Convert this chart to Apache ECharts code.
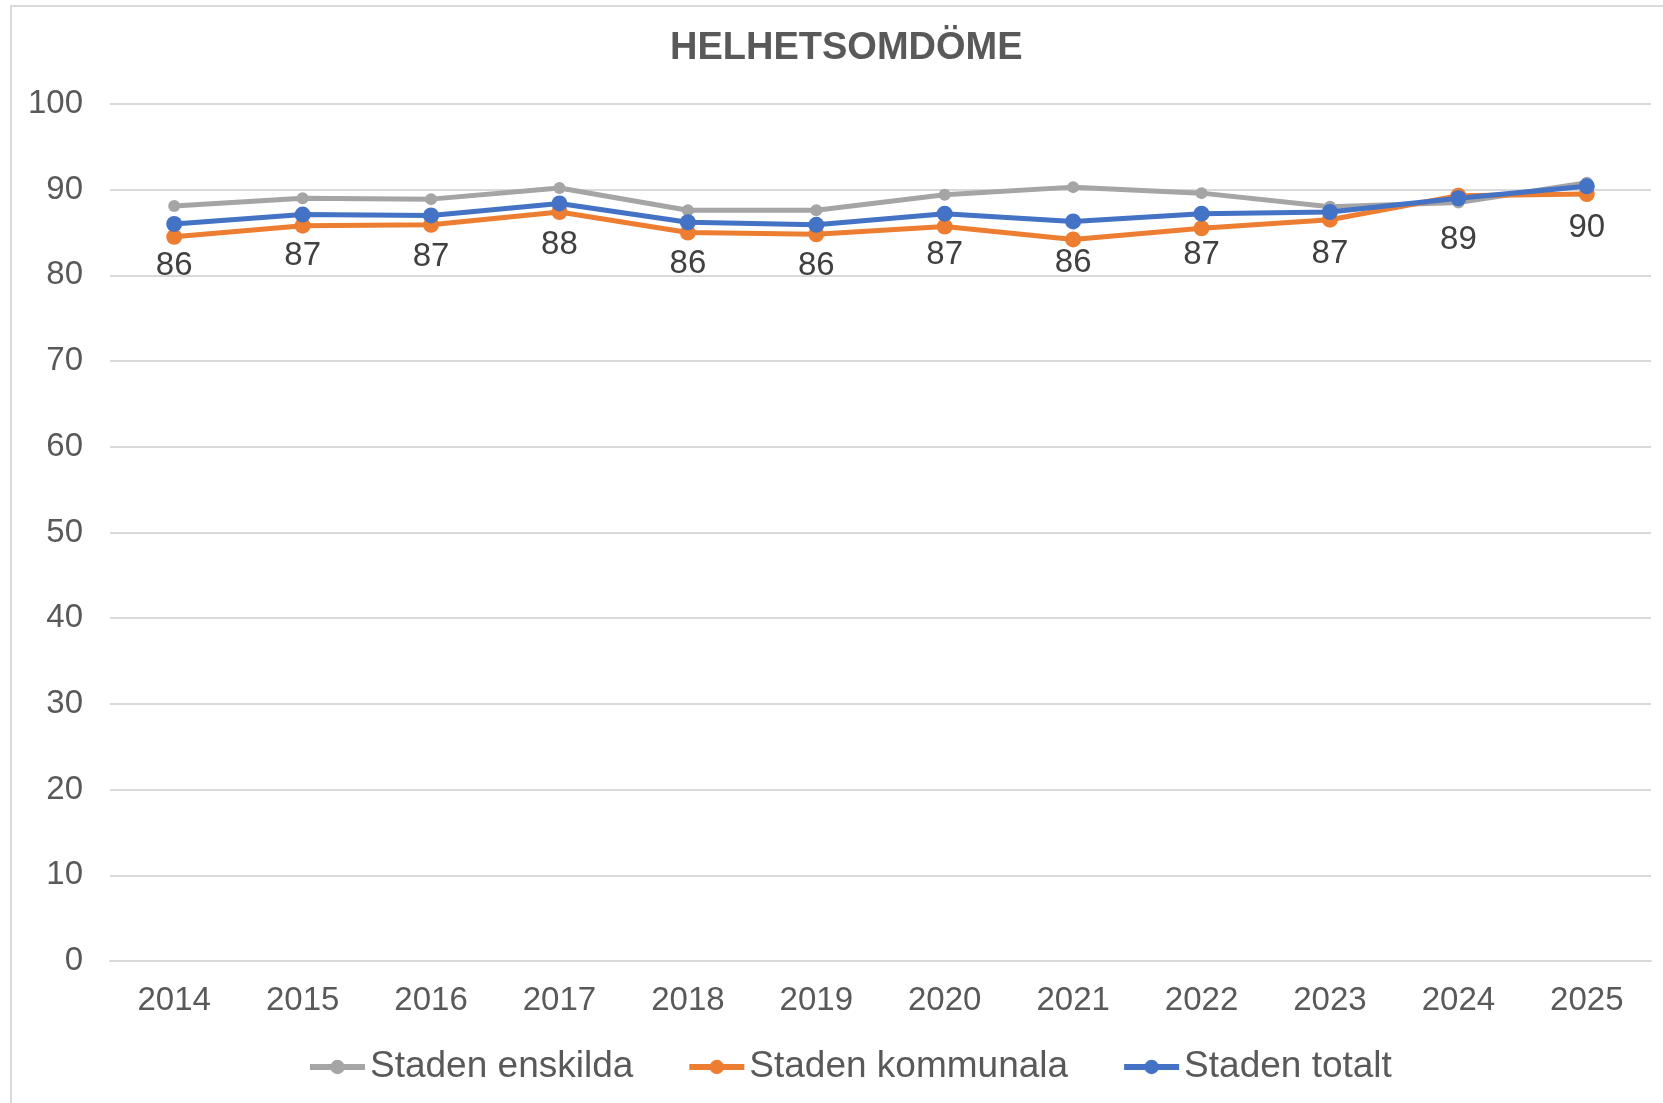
<!DOCTYPE html>
<html>
<head>
<meta charset="utf-8">
<style>
  html, body { margin: 0; padding: 0; background: #ffffff; }
  #chart { width: 1663px; height: 1103px; }
</style>
<script src="https://cdn.jsdelivr.net/npm/echarts@6/dist/echarts.min.js"></script>
</head>
<body>
<div id="chart"></div>
<script>
const titleText = 'HELHETSOMDÖME';
const categories = ['2014', '2015', '2016', '2017', '2018', '2019', '2020', '2021', '2022', '2023', '2024', '2025'];
const seriesNames = ['Staden enskilda', 'Staden kommunala', 'Staden totalt'];
const enskilda = [88.1, 89.0, 88.9, 90.2, 87.6, 87.6, 89.4, 90.3, 89.6, 88.0, 88.5, 90.8];
const kommunala = [84.5, 85.8, 85.9, 87.4, 85.0, 84.8, 85.7, 84.2, 85.5, 86.5, 89.3, 89.5];
const totalt = [86.0, 87.1, 87.0, 88.4, 86.2, 85.9, 87.2, 86.3, 87.2, 87.4, 89.0, 90.4];
const yMin = 0, yMax = 100, yInterval = 10;

const FONT = '"Liberation Sans", Arial, sans-serif';
const chart = echarts.init(document.getElementById('chart'), null, { renderer: 'canvas' });

function lineSeries(name, data, color, symbolSize, width, labels) {
  return {
    name: name,
    type: 'line',
    data: data,
    symbol: 'circle',
    symbolSize: symbolSize,
    itemStyle: { color: color },
    lineStyle: { color: color, width: width },
    animation: false,
    label: labels ? {
      show: true,
      position: 'bottom',
      distance: 17,
      color: '#404040',
      fontSize: 33,
      fontFamily: FONT,
      formatter: p => Math.round(p.value)
    } : { show: false }
  };
}

chart.setOption({
  backgroundColor: '#ffffff',
  animation: false,
  graphic: [{
    type: 'rect',
    shape: { x: 11, y: 6, width: 1700, height: 1200 },
    style: { fill: 'none', stroke: '#d9d9d9', lineWidth: 2 },
    silent: true,
    z: -10
  }],
  title: {
    text: titleText,
    left: 665,
    top: 25,
    textStyle: { color: '#595959', fontSize: 38, fontWeight: 'bold', fontFamily: FONT }
  },
  legend: {
    data: seriesNames,
    left: 302,
    top: 1042,
    itemWidth: 55,
    itemHeight: 18,
    itemGap: 53,
    lineStyle: { width: 6 },
    textStyle: { color: '#595959', fontSize: 37, fontFamily: FONT, lineHeight: 40 }
  },
  grid: { left: 110, right: 12, top: 104, bottom: 142, containLabel: false },
  xAxis: {
    type: 'category',
    data: categories,
    boundaryGap: true,
    axisTick: { show: false },
    axisLine: { lineStyle: { color: '#d9d9d9', width: 2 } },
    axisLabel: { color: '#595959', fontSize: 33, fontFamily: FONT, margin: 23 }
  },
  yAxis: {
    type: 'value',
    min: yMin,
    max: yMax,
    interval: yInterval,
    axisLine: { show: false },
    axisTick: { show: false },
    splitLine: { lineStyle: { color: '#d9d9d9', width: 2 } },
    axisLabel: { color: '#595959', fontSize: 33, fontFamily: FONT, margin: 27 }
  },
  series: [
    lineSeries(seriesNames[0], enskilda, '#a5a5a5', 12, 5, false),
    lineSeries(seriesNames[1], kommunala, '#ed7d31', 16, 5, false),
    lineSeries(seriesNames[2], totalt, '#4472c4', 16, 5, true)
  ]
});
</script>
</body>
</html>
